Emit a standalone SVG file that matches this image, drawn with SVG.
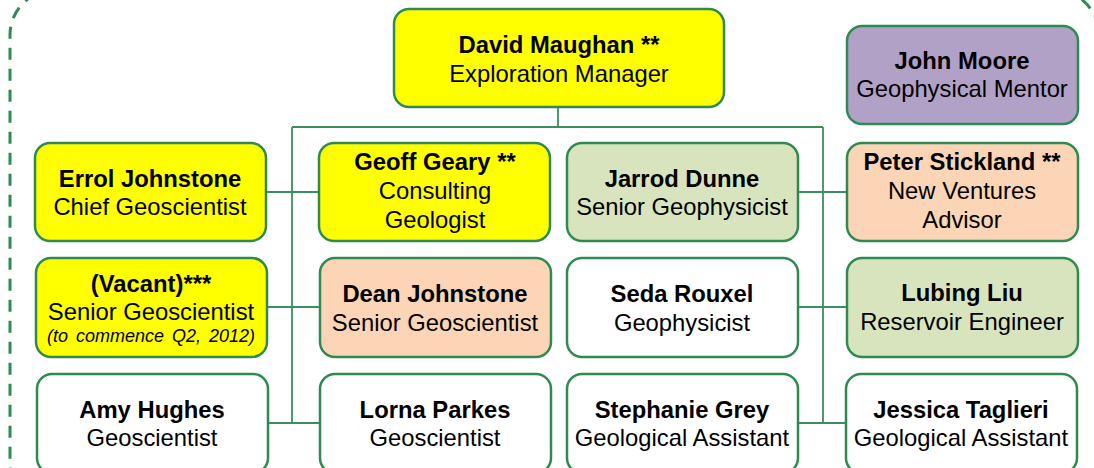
<svg xmlns="http://www.w3.org/2000/svg" width="1094" height="468" viewBox="0 0 1094 468">
<style>
.frame{fill:none;stroke:#2e8b57;stroke-width:3;stroke-dasharray:12 9}
.box{stroke:#2f8a52;stroke-width:2.5}
.yel{fill:#ffff00}.grn{fill:#d7e4bd}.pch{fill:#fbd5b5}.pur{fill:#b2a1c7}.wht{fill:#ffffff}
.conn line{stroke:#3a8f5c;stroke-width:1.8;fill:none}
text{font-family:"Liberation Sans",Arial,sans-serif;font-size:23.8px;fill:#000;text-anchor:middle}
.b{font-weight:bold}
.it{font-style:italic;font-size:18px;word-spacing:3px}
</style>
<rect class="frame" x="10" y="-10" width="1089" height="520" rx="45" ry="45"/>
<g class="conn" id="connectors">
<line x1="558" y1="107" x2="558" y2="127"/>
<line x1="292" y1="127" x2="823" y2="127"/>
<line x1="292" y1="127" x2="292" y2="423"/>
<line x1="823" y1="127" x2="823" y2="423"/>
<line x1="266" y1="192" x2="319" y2="192"/>
<line x1="798" y1="192" x2="847" y2="192"/>
<line x1="266" y1="307" x2="319" y2="307"/>
<line x1="798" y1="307" x2="847" y2="307"/>
<line x1="266" y1="423" x2="319" y2="423"/>
<line x1="798" y1="423" x2="847" y2="423"/>
</g>
<g id="david"><rect class="box yel" x="394" y="9" width="330" height="98" rx="15"/>
<text class="b" x="559" y="53">David Maughan **</text><text x="559" y="82">Exploration Manager</text></g>
<g id="john"><rect class="box pur" x="847" y="26" width="231" height="98" rx="15"/>
<text class="b" x="962" y="69">John Moore</text><text x="962" y="97">Geophysical Mentor</text></g>
<g id="errol"><rect class="box yel" x="35" y="143" width="231" height="98" rx="15"/>
<text class="b" x="150" y="187">Errol Johnstone</text><text x="150" y="215">Chief Geoscientist</text></g>
<g id="geoff"><rect class="box yel" x="319" y="143" width="231" height="98" rx="15"/>
<text class="b" x="435" y="170">Geoff Geary **</text><text x="435" y="199">Consulting</text><text x="435" y="228">Geologist</text></g>
<g id="jarrod"><rect class="box grn" x="567" y="143" width="231" height="98" rx="15"/>
<text class="b" x="682" y="187">Jarrod Dunne</text><text x="682" y="215">Senior Geophysicist</text></g>
<g id="peter"><rect class="box pch" x="847" y="143" width="231" height="98" rx="15"/>
<text class="b" x="962" y="170">Peter Stickland **</text><text x="962" y="199">New Ventures</text><text x="962" y="228">Advisor</text></g>
<g id="vacant"><rect class="box yel" x="36" y="258" width="231" height="99" rx="15"/>
<text class="b" x="151" y="292">(Vacant)***</text><text x="151" y="320">Senior Geoscientist</text><text class="it" x="151" y="342">(to commence Q2, 2012)</text></g>
<g id="dean"><rect class="box pch" x="320" y="258" width="231" height="99" rx="15"/>
<text class="b" x="435" y="302">Dean Johnstone</text><text x="435" y="331">Senior Geoscientist</text></g>
<g id="seda"><rect class="box wht" x="567" y="258" width="231" height="99" rx="15"/>
<text class="b" x="682" y="302">Seda Rouxel</text><text x="682" y="331">Geophysicist</text></g>
<g id="lubing"><rect class="box grn" x="847" y="258" width="231" height="99" rx="15"/>
<text class="b" x="962" y="301">Lubing Liu</text><text x="962" y="330">Reservoir Engineer</text></g>
<g id="amy"><rect class="box wht" x="37" y="374" width="231" height="99" rx="15"/>
<text class="b" x="152" y="418">Amy Hughes</text><text x="152" y="446">Geoscientist</text></g>
<g id="lorna"><rect class="box wht" x="320" y="374" width="231" height="99" rx="15"/>
<text class="b" x="435" y="418">Lorna Parkes</text><text x="435" y="446">Geoscientist</text></g>
<g id="stephanie"><rect class="box wht" x="567" y="374" width="231" height="99" rx="15"/>
<text class="b" x="682" y="418">Stephanie Grey</text><text x="682" y="446">Geological Assistant</text></g>
<g id="jessica"><rect class="box wht" x="846" y="374" width="231" height="99" rx="15"/>
<text class="b" x="961" y="418">Jessica Taglieri</text><text x="961" y="446">Geological Assistant</text></g>
</svg>
